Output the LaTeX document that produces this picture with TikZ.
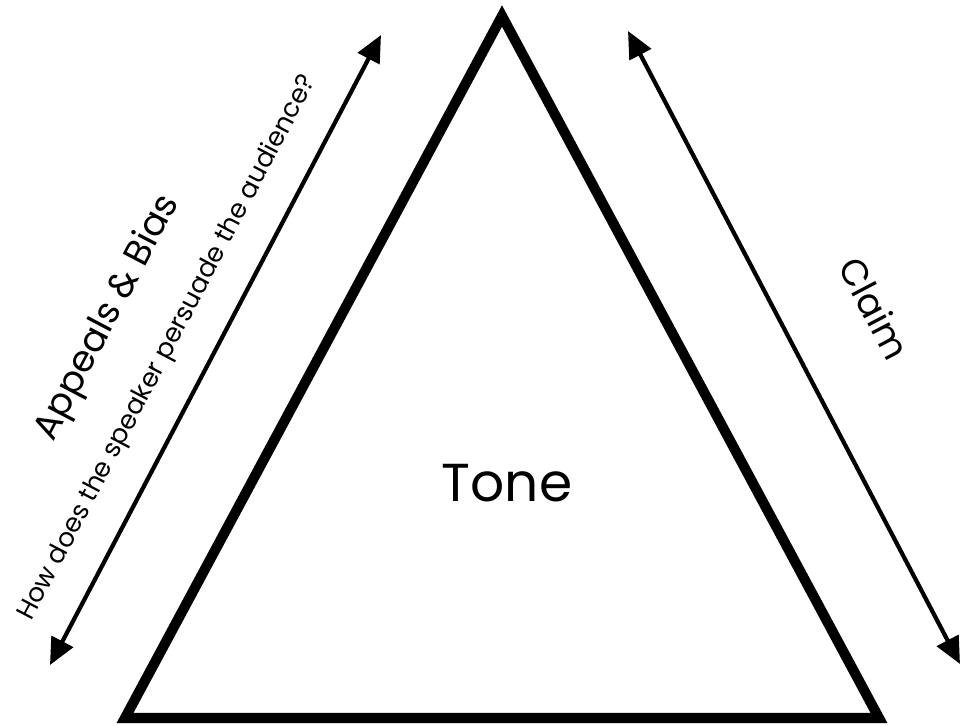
\documentclass[tikz,border=0pt]{standalone}
\usepackage{fontspec}
\setmainfont{Poppins}
\usetikzlibrary{arrows.meta}

\begin{document}
\begin{tikzpicture}[x=0.025cm,y=-0.025cm,
    arrowline/.style={line width=3pt,{Triangle[length=19pt,width=17pt]}-{Triangle[length=19pt,width=17pt]}},
    bigtext/.style={font=\fontsize{26}{28}\selectfont},
    smalltext/.style={font=\fontsize{18.5}{20}\selectfont}]

    % Ukuran gambar
    \useasboundingbox (0,0) rectangle (961,725);

    % Titik sudut segitiga
    \coordinate (apex) at (502,16);
    \coordinate (baseL) at (125,718);
    \coordinate (baseR) at (879,718);

    % Segitiga tebal
    \draw[line width=7.2pt,line join=miter] (apex)--(baseL)--(baseR)--cycle;

    % Ujung panah kiri dan kanan
    \coordinate (leftlow) at (50,665);
    \coordinate (lefttop) at (381,35);
    \coordinate (righttop) at (628,31);
    \coordinate (rightlow) at (960,664);

    % Panah di kedua sisi
    \draw[arrowline] (leftlow)--(lefttop);
    \draw[arrowline] (righttop)--(rightlow);

    % Label sisi kiri
    \node[bigtext,rotate=62.3] (appeals) at (108,318) {Appeals \& Bias};
    \node[smalltext,rotate=62.3] (question) at (168,348) {How does the speaker persuade the audience?};

    % Label sisi kanan dan tengah
    \node[bigtext,rotate=-62.3] (claim) at (875,308) {Claim};
    \node[font=\fontsize{38}{40}\selectfont] (tone) at (507,483) {Tone};

\end{tikzpicture}
\end{document}
